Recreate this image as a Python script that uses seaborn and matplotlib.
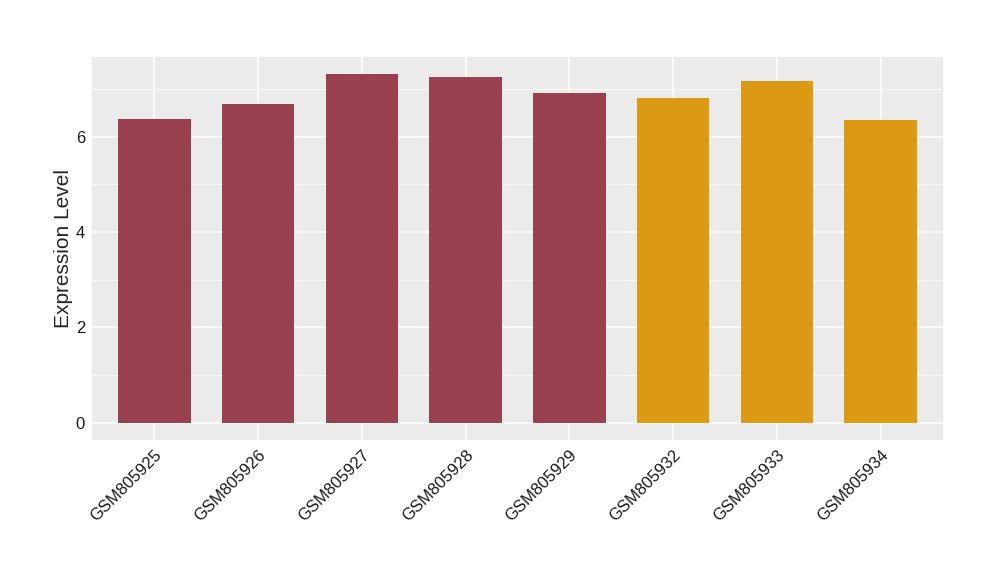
import matplotlib
matplotlib.use("Agg")
import matplotlib.pyplot as plt
import seaborn as sns
import pandas as pd
from matplotlib.ticker import MultipleLocator

samples = ["GSM805925", "GSM805926", "GSM805927", "GSM805928",
           "GSM805929", "GSM805932", "GSM805933", "GSM805934"]
values = [6.38, 6.68, 7.31, 7.26, 6.91, 6.82, 7.18, 6.36]
groups = ["A", "A", "A", "A", "A", "B", "B", "B"]
palette = {"A": "#99414F", "B": "#DC9913"}

df = pd.DataFrame({"sample": samples, "value": values, "group": groups})

sns.set_style("darkgrid", {"axes.facecolor": "#EBEBEB", "grid.color": "white"})
plt.rcParams["font.family"] = ["Liberation Sans", "DejaVu Sans"]

fig = plt.figure(figsize=(10, 5.8), dpi=100)
ax = fig.add_axes([0.092, 0.2414, 0.851, 0.6603])

sns.barplot(data=df, x="sample", y="value", hue="group", palette=palette,
            width=0.7, dodge=False, legend=False, ax=ax, saturation=1,
            linewidth=0, edgecolor="none")

ymax = max(values)
ax.set_ylim(-0.05 * ymax, ymax * 1.05)
ax.set_xlim(-0.6, len(samples) - 0.4)
ax.yaxis.set_major_locator(MultipleLocator(2))
ax.yaxis.set_minor_locator(MultipleLocator(1))
ax.grid(which="major", color="white", linewidth=1.2)
ax.grid(which="minor", axis="y", color="white", linewidth=0.6)
ax.set_axisbelow(True)
for s in ax.spines.values():
    s.set_visible(False)

ax.set_xlabel("")
ax.set_ylabel("Expression Level", fontsize=15, labelpad=2)
ax.tick_params(axis="both", which="major", length=3, color="#333333",
               labelsize=12, labelcolor="#1a1a1a", pad=2)
ax.tick_params(axis="y", which="minor", length=0)
plt.setp(ax.get_xticklabels(), rotation=45, ha="right", rotation_mode="anchor")

fig.savefig("out.png", dpi=100)
